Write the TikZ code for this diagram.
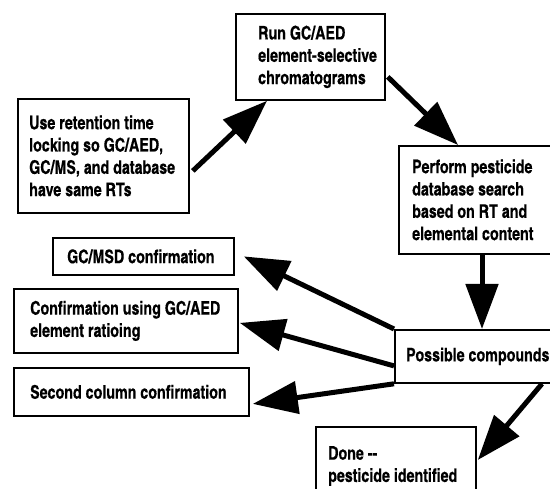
\documentclass[tikz,border=0pt]{standalone}
\usepackage{fontspec}
\newfontfamily\cnfont[FakeStretch=0.93,FakeBold=0.4]{texgyreheroscn-bold.otf}
\usetikzlibrary{arrows.meta}
\begin{document}
\begin{tikzpicture}[x=1pt,y=-1pt,
  box/.style={draw, line width=1.8pt, anchor=north west, inner sep=0pt},
  boxtext/.style={anchor=west, align=left, inner sep=0pt,
    font=\cnfont\fontsize{18.7}{22.3}\selectfont},
  flow/.style={line width=5pt, -{Triangle[length=45pt,width=32pt]}}
]
\useasboundingbox (0,0) rectangle (550,489);
\clip (0,0) rectangle (550,489);

% process boxes
\node[box, minimum width=149pt, minimum height=86pt] (run) at (235,13) {};
\node[boxtext] (runT) at ([xshift=23pt]run.west)
  {Run GC/AED\\element-selective\\chromatograms};

\node[box, minimum width=171pt, minimum height=114pt] (lock) at (17,98) {};
\node[boxtext] (lockT) at ([xshift=12pt]lock.west)
  {Use retention time\\locking so GC/AED,\\GC/MS, and database\\have same RTs};

\node[box, minimum width=200pt, minimum height=108pt] (search) at (398,145) {};
\node[boxtext] (searchT) at ([xshift=14pt]search.west)
  {Perform pesticide\\database search\\based on RT and\\elemental content};

\node[box, minimum width=181pt, minimum height=37pt] (gcmsd) at (52,237) {};
\node[boxtext] (gcmsdT) at ([xshift=15pt]gcmsd.west) {GC/MSD confirmation};

\node[box, minimum width=224pt, minimum height=64pt] (ratio) at (13,288) {};
\node[boxtext] (ratioT) at ([xshift=17pt]ratio.west)
  {Confirmation using GC/AED\\element ratioing};

\node[box, minimum width=235pt, minimum height=48pt] (second) at (13,367) {};
\node[boxtext] (secondT) at ([xshift=17pt]second.west) {Second column confirmation};

\node[box, minimum width=200pt, minimum height=53pt] (poss) at (394,329) {};
\node[boxtext] (possT) at ([xshift=12pt]poss.west) {Possible compounds};

\node[box, minimum width=160pt, minimum height=100pt] (done) at (315,426) {};
\node[boxtext, anchor=north west] (doneT) at ([xshift=13pt,yshift=-20pt]done.north west)
  {Done --\\pesticide identified};

% flow arrows
\draw[flow] ([xshift=3pt,yshift=-15pt]lock.east) -- ([xshift=32pt]run.south west);
\draw[flow] ([xshift=2pt,yshift=-20pt]run.east) -- ([xshift=60pt]search.north west);
\draw[flow] ([xshift=84pt]search.south west) -- ([xshift=88pt]poss.north west);
\draw[flow] (poss.north west) -- ([xshift=9pt]gcmsd.east);
\draw[flow] ([yshift=-9.5pt]poss.west) -- ([xshift=1pt,yshift=-2pt]ratio.east);
\draw[flow] (poss.south west) -- ([xshift=3pt,yshift=-12pt]second.east);
\draw[flow] ([xshift=148pt]poss.south west) -- ([xshift=1pt,yshift=-34pt]done.north east);
\end{tikzpicture}
\end{document}
